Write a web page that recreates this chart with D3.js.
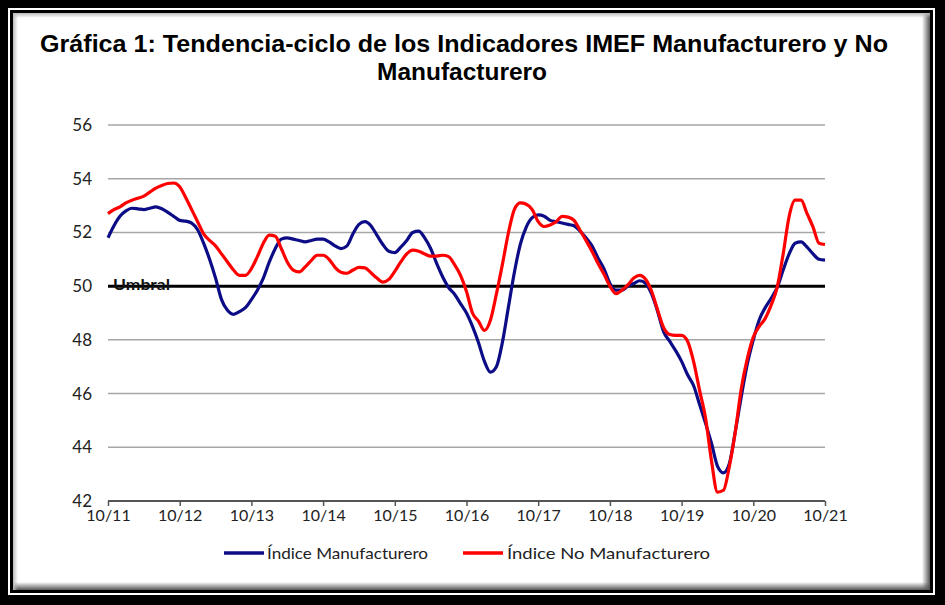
<!DOCTYPE html>
<html><head><meta charset="utf-8">
<script src="https://cdn.jsdelivr.net/npm/d3@7"></script>
<style>html,body{margin:0;padding:0;background:#fff}svg{display:block}</style>
</head><body><svg id="c" width="945" height="605"></svg>
<script>
const xTickLabels = ["10/11","10/12","10/13","10/14","10/15","10/16","10/17","10/18","10/19","10/20","10/21"];
const yTicks = [42,44,46,48,50,52,54,56];
const seriesNames = ["Índice Manufacturero","Índice No Manufacturero"];
const threshold = 50;
const thresholdLabel = "Umbral";
const manufacturero = [51.8,52.25,52.6,52.8,52.9,52.88,52.85,52.9,52.95,52.88,52.75,52.6,52.45,52.42,52.35,52.1,51.6,51.0,50.3,49.5,49.1,48.95,49.05,49.2,49.5,49.85,50.3,50.9,51.4,51.75,51.8,51.75,51.7,51.65,51.7,51.75,51.75,51.65,51.5,51.4,51.5,51.95,52.3,52.4,52.25,51.9,51.55,51.3,51.25,51.45,51.7,52.0,52.05,51.8,51.4,50.85,50.35,49.95,49.7,49.35,49.0,48.5,47.9,47.2,46.8,47.0,47.9,49.2,50.5,51.55,52.2,52.55,52.65,52.6,52.45,52.4,52.35,52.3,52.25,52.05,51.8,51.5,51.05,50.65,50.1,49.85,49.85,50.0,50.1,50.2,50.1,49.7,49.05,48.3,47.95,47.6,47.2,46.7,46.3,45.6,44.9,44.15,43.3,43.05,43.4,44.6,45.9,47.1,48.0,48.75,49.2,49.55,49.95,50.6,51.2,51.6,51.65,51.45,51.2,51.0,50.97];
const noManufacturero = [52.7,52.85,52.95,53.1,53.2,53.27,53.35,53.5,53.65,53.75,53.82,53.84,53.7,53.3,52.85,52.4,51.95,51.7,51.5,51.2,50.9,50.6,50.4,50.4,50.65,51.1,51.6,51.9,51.86,51.4,50.9,50.6,50.53,50.72,50.95,51.15,51.15,51.0,50.7,50.52,50.48,50.6,50.7,50.68,50.5,50.3,50.15,50.25,50.55,50.9,51.2,51.34,51.3,51.2,51.12,51.12,51.15,51.1,50.8,50.4,49.8,49.0,48.7,48.35,48.73,49.7,50.8,51.97,52.85,53.1,53.05,52.85,52.4,52.22,52.28,52.4,52.6,52.57,52.45,52.08,51.7,51.3,50.85,50.45,50.0,49.72,49.85,50.05,50.3,50.4,50.25,49.8,49.1,48.45,48.2,48.17,48.17,47.95,47.2,46.13,45.1,43.5,42.33,42.4,43.3,44.6,46.2,47.3,48.1,48.5,48.8,49.3,49.96,51.2,52.6,53.2,53.2,52.7,52.2,51.6,51.55];
const colors = ["#0c0c86","#ff0000"];

const svg = d3.select("#c");
const W = 945, H = 605;
const defs = svg.append("defs");
// frame
svg.append("rect").attr("width",W).attr("height",H).attr("fill","#000");
svg.append("rect").attr("x",8).attr("y",8).attr("width",927).attr("height",587).attr("fill","#fff");
svg.append("rect").attr("x",10).attr("y",10).attr("width",923).attr("height",583).attr("fill","#000");
svg.append("rect").attr("x",13).attr("y",13).attr("width",917).attr("height",577).attr("fill","#fff");
function grad(id,x1,y1,x2,y2,c){
  const g=defs.append("linearGradient").attr("id",id).attr("x1",x1).attr("y1",y1).attr("x2",x2).attr("y2",y2);
  g.append("stop").attr("offset",0).attr("stop-color",c).attr("stop-opacity",1);
  g.append("stop").attr("offset",1).attr("stop-color",c).attr("stop-opacity",0);
}
grad("gb",0,1,0,0,"#555"); grad("gr",1,0,0,0,"#555");
grad("gt",0,0,0,1,"#bbb"); grad("gl",0,0,1,0,"#bbb");
svg.append("rect").attr("x",13).attr("y",582).attr("width",917).attr("height",8).attr("fill","url(#gb)");
svg.append("rect").attr("x",922).attr("y",13).attr("width",8).attr("height",577).attr("fill","url(#gr)");
svg.append("rect").attr("x",13).attr("y",13).attr("width",917).attr("height",5).attr("fill","url(#gt)");
svg.append("rect").attr("x",13).attr("y",13).attr("width",5).attr("height",577).attr("fill","url(#gl)");

// title
const tFont = "'Liberation Sans', Arial, sans-serif";
svg.append("text").attr("x",464).attr("y",52).attr("text-anchor","middle")
  .attr("font-family",tFont).attr("font-weight","bold").attr("font-size",24)
  .attr("textLength",848).attr("lengthAdjust","spacingAndGlyphs").attr("fill","#000")
  .text("Gráfica 1: Tendencia-ciclo de los Indicadores IMEF Manufacturero y No");
svg.append("text").attr("x",462).attr("y",80).attr("text-anchor","middle")
  .attr("font-family",tFont).attr("font-weight","bold").attr("font-size",24)
  .attr("textLength",170).attr("lengthAdjust","spacingAndGlyphs").attr("fill","#000")
  .text("Manufacturero");

const x = d3.scaleLinear().domain([0,120]).range([108,825]);
const y = d3.scaleLinear().domain([42,56]).range([501,125]);
const lFont = "Lato, 'Open Sans', sans-serif";

// gridlines
svg.append("g").selectAll("line").data(yTicks.filter(v=>v!==42 && v!==threshold)).join("line")
  .attr("x1",x(0)).attr("x2",x(120)).attr("y1",d=>y(d)).attr("y2",d=>y(d))
  .attr("stroke","#a6a6a6").attr("stroke-width",1.5);

// y axis labels
const yAxis = d3.axisLeft(y).tickValues(yTicks).tickSize(0).tickPadding(16).tickFormat(d3.format("d"));
const gy = svg.append("g").attr("transform",`translate(${x(0)},0)`).call(yAxis);
gy.select(".domain").remove();
gy.selectAll("text").attr("font-family",lFont).attr("font-size",17).attr("fill","#222");

// x axis
const xAxis = d3.axisBottom(x).tickValues(d3.range(0,121,12)).tickSize(5).tickPadding(4)
  .tickFormat((d,i)=>xTickLabels[i]);
const gx = svg.append("g").attr("transform",`translate(0,${y(42)})`).call(xAxis);
gx.select(".domain").attr("stroke","#555").attr("stroke-width",2).attr("d",`M${x(0)},0H${x(120)}`);
gx.selectAll(".tick line").attr("stroke","#555").attr("stroke-width",1.5);
gx.selectAll("text").attr("font-family",lFont).attr("font-size",16).attr("fill","#222");

// threshold
svg.append("line").attr("x1",x(0)).attr("x2",x(120)).attr("y1",y(threshold)).attr("y2",y(threshold))
  .attr("stroke","#000").attr("stroke-width",3);
svg.append("text").attr("x",113).attr("y",y(threshold)+4).attr("font-family",lFont)
  .attr("font-weight","bold").attr("font-size",16).attr("fill","#111")
  .attr("textLength",57).attr("lengthAdjust","spacingAndGlyphs").text(thresholdLabel);

// lines
const line = d3.line().x((d,i)=>x(i)).y(d=>y(d)).curve(d3.curveMonotoneX);
[manufacturero,noManufacturero].forEach((s,k)=>{
  svg.append("path").datum(s).attr("d",line).attr("fill","none")
    .attr("stroke",colors[k]).attr("stroke-width",3.2).attr("stroke-linejoin","round");
});

// legend
const leg = [{x:224,tx:267,w:161},{x:463,tx:507,w:203}];
leg.forEach((l,k)=>{
  svg.append("line").attr("x1",l.x).attr("x2",l.x+40).attr("y1",553).attr("y2",553)
    .attr("stroke",colors[k]).attr("stroke-width",3.5);
  svg.append("text").attr("x",l.tx).attr("y",559).attr("font-family",lFont).attr("font-size",16)
    .attr("fill","#222").attr("textLength",l.w).attr("lengthAdjust","spacingAndGlyphs").text(seriesNames[k]);
});
</script></body></html>
